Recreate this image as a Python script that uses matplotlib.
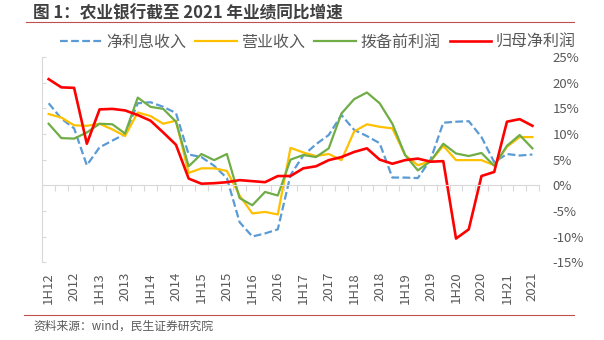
import matplotlib
matplotlib.use("Agg")
import matplotlib.pyplot as plt
from matplotlib.lines import Line2D

plt.rcParams['font.family'] = ['Noto Sans CJK SC', 'DejaVu Sans']

# 季度序列: 1H12, 3Q12, 2012, 1Q13, 1H13, ... , 2021 (共 39 个点)
tick_labels = ['1H12', '2012', '1H13', '2013', '1H14', '2014', '1H15', '2015',
               '1H16', '2016', '1H17', '2017', '1H18', '2018', '1H19', '2019',
               '1H20', '2020', '1H21', '2021']

# 同比增速 (%)
net_interest = [16.0, 13.0, 11.1, 3.9, 7.4, 8.7, 10.0, 16.0, 16.2, 15.3,
                14.1, 6.0, 5.5, 3.8, 1.4, -7.2, -10.0, -9.4, -8.6, 2.0,
                5.8, 8.0, 9.8, 13.7, 10.8, 9.6, 8.2, 1.5, 1.5, 1.4,
                5.0, 12.2, 12.4, 12.5, 9.4, 4.5, 6.1, 5.8, 6.0]
revenue = [13.9, 13.2, 11.7, 11.6, 12.0, 10.9, 9.6, 14.2, 13.5, 12.0,
           12.6, 2.4, 3.3, 3.3, 2.8, -2.0, -5.5, -5.2, -5.7, 7.3,
           6.4, 5.7, 6.1, 4.9, 10.5, 11.9, 11.4, 11.1, 5.9, 3.9,
           4.7, 7.7, 4.9, 4.9, 4.9, 3.9, 7.5, 9.4, 9.4]
ppop = [12.0, 9.2, 9.1, 10.3, 12.0, 11.9, 10.1, 17.1, 15.3, 14.9,
        12.4, 3.7, 6.1, 4.9, 6.1, -2.5, -3.9, -1.3, -2.0, 5.0,
        5.9, 5.5, 7.2, 14.0, 16.8, 18.1, 16.0, 12.0, 5.9, 2.9,
        4.7, 8.1, 6.2, 5.7, 6.3, 3.8, 7.7, 9.8, 7.2]
net_profit = [20.7, 19.1, 19.0, 8.1, 14.8, 14.9, 14.6, 13.7, 12.6, 10.3,
              7.9, 1.3, 0.3, 0.4, 0.6, 1.0, 0.8, 0.6, 1.8, 1.8,
              3.3, 3.7, 4.9, 5.5, 6.5, 7.2, 5.0, 4.2, 4.9, 5.2,
              4.6, 4.7, -10.4, -8.6, 1.8, 2.6, 12.4, 12.9, 11.6]

y_ticks = [-15, -10, -5, 0, 5, 10, 15, 20, 25]

GRID = '#d9d9d9'
TXT = '#595959'

fig = plt.figure(figsize=(6.04, 3.4), dpi=100)
ax = fig.add_axes([0.070, 0.229, 0.822, 0.603])

x = list(range(len(net_profit)))
l1, = ax.plot(x, net_interest, color='#5B9BD5', lw=1.6, dashes=(3.5, 1.5), label='净利息收入')
l2, = ax.plot(x, revenue, color='#FFC000', lw=1.6, label='营业收入')
l3, = ax.plot(x, ppop, color='#70AD47', lw=1.6, label='拨备前利润')
l4, = ax.plot(x, net_profit, color='#FF0000', lw=1.9, label='归母净利润')

ax.set_xlim(-0.5, len(x) - 0.5)
ax.set_ylim(-15, 25)

# 纵轴: 左侧只留刻度线, 标签放右侧
ax.set_yticks(y_ticks)
ax.set_yticklabels([f'{v}%' for v in y_ticks])
ax.tick_params(axis='y', left=True, right=False, labelleft=False, labelright=True,
               direction='in', length=3, color=GRID, labelsize=9.5, labelcolor=TXT, pad=10)
for lbl in ax.get_yticklabels():
    lbl.set_horizontalalignment('left')

# 横轴: 零线上的刻度
for s in ['top', 'right']:
    ax.spines[s].set_visible(False)
ax.spines['left'].set_color(GRID)
ax.spines['bottom'].set_position(('data', 0))
ax.spines['bottom'].set_color(GRID)
ax.set_xticks([i - 0.5 for i in range(len(x) + 1)])
ax.tick_params(axis='x', direction='out', length=4, color=GRID, labelbottom=False)

# 类别标签放在底部
sec = ax.secondary_xaxis(0.0)
sec.set_xticks(x[::2])
sec.set_xticklabels(tick_labels, rotation=90)
sec.tick_params(axis='x', length=0, pad=7, labelsize=9.5, labelcolor=TXT)
sec.spines['bottom'].set_visible(False)

fig.legend(handles=[l1, l2, l3, l4], loc='center', bbox_to_anchor=(0.526, 0.876),
           ncol=4, frameon=False, fontsize=11.5, labelcolor=TXT, handlelength=2.6,
           handletextpad=0.25, columnspacing=0.6, borderpad=0, borderaxespad=0)

fig.text(33 / 604, 1 - 13 / 340, '图 1：农业银行截至 2021 年业绩同比增速',
         fontsize=12, fontweight='bold', color='#404040', va='center')
fig.add_artist(Line2D([26 / 604, 574 / 604], [1 - 22 / 340] * 2, color='#C0504D', lw=0.8))
fig.add_artist(Line2D([24 / 604, 574 / 604], [1 - 315 / 340] * 2, color='#C0504D', lw=0.8))
fig.text(33 / 604, 1 - 326 / 340, '资料来源：wind，民生证券研究院',
         fontsize=8.5, color='#595959', va='center')

fig.savefig('out.png', dpi=100)
